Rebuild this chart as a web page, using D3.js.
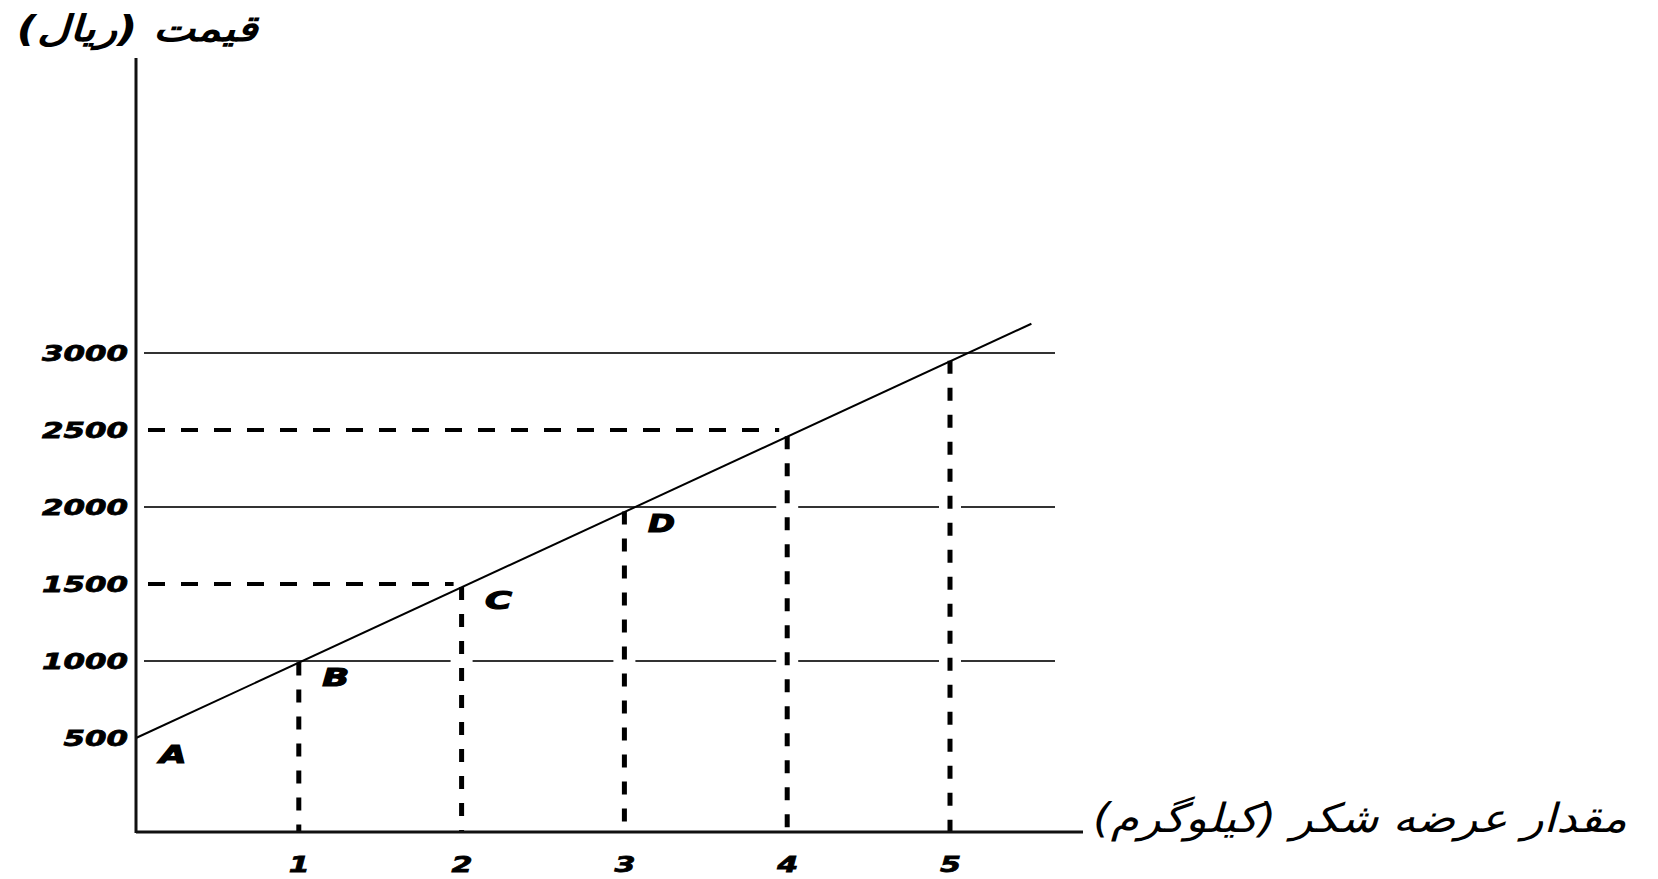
<!DOCTYPE html>
<html>
<head>
<meta charset="utf-8">
<script src="https://cdn.jsdelivr.net/npm/d3@7"></script>
<style>
  body { margin: 0; background: #fff; }
  svg { display: block; }
</style>
</head>
<body>
<svg width="1658" height="879"></svg>
<script>
// values
var quantities = [1, 2, 3, 4, 5];
var priceTicks = [500, 1000, 1500, 2000, 2500, 3000];
var solidPrices = [1000, 2000, 3000];
var dashedPrices = [1500, 2500];
var dashedQty = [2, 4];
var verticalTops = [990, 1480, 1970, 2460, 2950];
var supplyQ = [0, 5.5];
var supplyP = [500, 3190];
var pointNames = ["A", "B", "C", "D"];
var pointQ = [0, 1, 2, 3];
var pointP = [500, 1000, 1500, 2000];

var yTitle = "قیمت (ریال)";
var xTitle = "مقدار عرضه شکر (کیلوگرم)";

var svg = d3.select("svg");

// layout
var plotLeft = 136, plotBottom = 832, plotTop = 58;
var gridStart = 144, gridEnd = 1055, axisEnd = 1083;

var x = d3.scaleLinear().domain([0, 5]).range([plotLeft, 950]);
var y = d3.scaleLinear().domain([500, 3000]).range([738, 353]);

var numFont = "'DejaVu Sans', sans-serif";

// solid horizontal lines
svg.append("g")
    .selectAll("line")
    .data(solidPrices)
    .enter()
    .append("line")
    .attr("x1", gridStart)
    .attr("x2", gridEnd)
    .attr("y1", d => y(d))
    .attr("y2", d => y(d))
    .attr("stroke", "#333")
    .attr("stroke-width", 2);

// dashed horizontal lines
svg.append("g")
    .selectAll("line")
    .data(dashedPrices)
    .enter()
    .append("line")
    .attr("x1", 148)
    .attr("x2", (d, i) => x(dashedQty[i]) - 8)
    .attr("y1", d => y(d))
    .attr("y2", d => y(d))
    .attr("stroke", "#000")
    .attr("stroke-width", 4)
    .attr("stroke-dasharray", "17,16");

// white gaps where verticals cross the grid
svg.append("g")
    .selectAll("line")
    .data(quantities)
    .enter()
    .append("line")
    .attr("x1", d => x(d))
    .attr("x2", d => x(d))
    .attr("y1", plotBottom)
    .attr("y2", (d, i) => y(verticalTops[i]) + 4)
    .attr("stroke", "#fff")
    .attr("stroke-width", 22);

// dashed verticals
svg.append("g")
    .selectAll("line")
    .data(quantities)
    .enter()
    .append("line")
    .attr("x1", d => x(d))
    .attr("x2", d => x(d))
    .attr("y1", (d, i) => y(verticalTops[i]))
    .attr("y2", plotBottom)
    .attr("stroke", "#000")
    .attr("stroke-width", 5)
    .attr("stroke-dasharray", "13,14");

// supply line
svg.append("line")
    .attr("x1", x(supplyQ[0]))
    .attr("y1", y(supplyP[0]))
    .attr("x2", x(supplyQ[1]))
    .attr("y2", y(supplyP[1]))
    .attr("stroke", "#000")
    .attr("stroke-width", 2);

// axes lines
svg.append("line")
    .attr("x1", plotLeft).attr("x2", plotLeft)
    .attr("y1", plotTop).attr("y2", plotBottom + 1)
    .attr("stroke", "#111").attr("stroke-width", 3);
svg.append("line")
    .attr("x1", plotLeft).attr("x2", axisEnd)
    .attr("y1", plotBottom).attr("y2", plotBottom)
    .attr("stroke", "#111").attr("stroke-width", 3);

// y tick labels
var yAxis = svg.append("g")
    .attr("transform", "translate(" + 128 + ",0)")
    .call(d3.axisLeft(y).tickValues(priceTicks).tickSize(0).tickPadding(0).tickFormat(d3.format("d")));
yAxis.select(".domain").remove();
yAxis.selectAll("text")
    .attr("font-family", numFont)
    .attr("font-size", 22)
    .attr("font-weight", "bold")
    .attr("font-style", "italic")
    .attr("fill", "#000")
    .attr("stroke", "#000")
    .attr("stroke-width", 0.8)
    .attr("textLength", d => String(d).length * 21.5)
    .attr("lengthAdjust", "spacingAndGlyphs");

// x tick labels
var xAxis = svg.append("g")
    .attr("transform", "translate(0," + 856 + ")")
    .call(d3.axisBottom(x).tickValues(quantities).tickSize(0).tickPadding(0).tickFormat(d3.format("d")));
xAxis.select(".domain").remove();
xAxis.selectAll("text")
    .attr("font-family", numFont)
    .attr("font-size", 22)
    .attr("font-weight", "bold")
    .attr("font-style", "italic")
    .attr("fill", "#000")
    .attr("stroke", "#000")
    .attr("stroke-width", 0.8)
    .attr("textLength", 21)
    .attr("lengthAdjust", "spacingAndGlyphs");

// point labels
svg.append("g")
    .selectAll("text")
    .data(pointNames)
    .enter()
    .append("text")
    .attr("x", (d, i) => x(pointQ[i]) + 37)
    .attr("y", (d, i) => y(pointP[i]) + 25)
    .attr("text-anchor", "middle")
    .attr("font-family", numFont)
    .attr("font-size", 25)
    .attr("font-weight", "bold")
    .attr("font-style", "italic")
    .attr("stroke", "#000")
    .attr("stroke-width", 1.2)
    .attr("textLength", 27)
    .attr("lengthAdjust", "spacingAndGlyphs")
    .text(d => d);

// titles
svg.append("text")
    .attr("x", 137)
    .attr("y", 41)
    .attr("text-anchor", "middle")
    .attr("font-family", "'DejaVu Sans', sans-serif")
    .attr("font-size", 36)
    .attr("font-weight", "bold")
    .attr("font-style", "italic")
    .attr("direction", "rtl")
    .attr("textLength", 241)
    .attr("lengthAdjust", "spacingAndGlyphs")
    .text(yTitle);

svg.append("text")
    .attr("x", 1360)
    .attr("y", 832)
    .attr("text-anchor", "middle")
    .attr("font-family", "'DejaVu Sans', sans-serif")
    .attr("font-size", 40)
    .attr("font-style", "italic")
    .attr("direction", "rtl")
    .attr("textLength", 534)
    .attr("lengthAdjust", "spacingAndGlyphs")
    .text(xTitle);
</script>
</body>
</html>
